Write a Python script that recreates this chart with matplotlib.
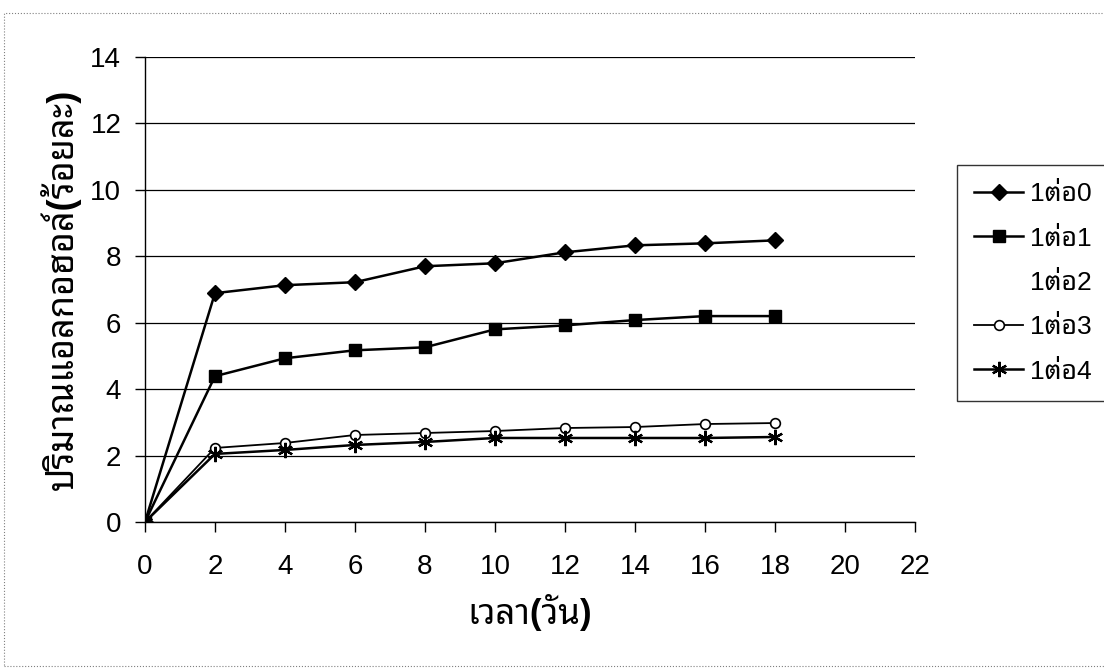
import matplotlib
matplotlib.use("Agg")
import matplotlib.pyplot as plt
from matplotlib.patches import Rectangle

# Latin text in Arial-like font, Thai falls back to a looped Thai face
plt.rcParams['font.family'] = ['Liberation Sans', 'Noto Sans Thai Looped']

days = [0, 2, 4, 6, 8, 10, 12, 14, 16, 18]

# alcohol content (%) for each ratio
r1_0 = [0.0, 6.89, 7.13, 7.22, 7.70, 7.79, 8.12, 8.33, 8.39, 8.48]
r1_1 = [0.0, 4.39, 4.93, 5.17, 5.26, 5.80, 5.92, 6.08, 6.20, 6.20]
r1_2 = []
r1_3 = [0.0, 2.23, 2.38, 2.62, 2.68, 2.74, 2.83, 2.86, 2.95, 2.98]
r1_4 = [0.0, 2.05, 2.17, 2.32, 2.41, 2.53, 2.53, 2.53, 2.53, 2.56]

labels = ['1ต่อ0', '1ต่อ1', '1ต่อ2', '1ต่อ3', '1ต่อ4']

fig = plt.figure(figsize=(11.04, 6.69), dpi=100)
ax = fig.add_axes([0.1313, 0.2197, 0.6975, 0.6951])

ax.plot(days, r1_0, color='black', lw=1.8, marker='D', ms=8.5, label=labels[0])
ax.plot(days, r1_1, color='black', lw=1.8, marker='s', ms=8.5, label=labels[1])
ax.plot(r1_2, r1_2, linestyle='none', marker='none', label=labels[2])
ax.plot(days, r1_3, color='black', lw=1.3, marker='o', ms=7, mfc='white', mew=1.2, label=labels[3])
ax.plot(days, r1_4, color='black', lw=1.8, marker=(6, 2, 0), ms=11, mew=1.6, label=labels[4])

ax.set_xlim(0, 22)
ax.set_ylim(0, 14)
ax.set_xticks(range(0, 23, 2))
ax.set_yticks(range(0, 15, 2))
ax.grid(axis='y', color='black', lw=0.9)
ax.set_axisbelow(True)
ax.spines['top'].set_visible(False)
ax.spines['right'].set_visible(False)
ax.spines['left'].set_linewidth(1.0)
ax.spines['bottom'].set_linewidth(1.0)
ax.tick_params(axis='both', labelsize=20, length=7, width=1, direction='out')
ax.tick_params(axis='x', pad=16)
ax.tick_params(axis='y', pad=10)

ax.set_xlabel('เวลา(วัน)', fontsize=25, fontweight='bold', labelpad=10)
ax.set_ylabel('ปริมาณแอลกอฮอล์(ร้อยละ)', fontsize=26, fontweight='bold', labelpad=7)

leg = ax.legend(loc='upper left', bbox_to_anchor=(0.867, 0.753),
                bbox_transform=fig.transFigure, borderaxespad=0, fontsize=19,
                frameon=True, fancybox=False, handlelength=1.85, handletextpad=0.25,
                labelspacing=0.77, borderpad=0.65)
leg.get_frame().set_edgecolor('black')
leg.get_frame().set_linewidth(1.0)

# scanned page border
fig.patches.append(Rectangle((0.004, 0.005), 1.2, 0.975, transform=fig.transFigure,
                             fill=False, edgecolor='gray', lw=0.8, ls=':'))

fig.savefig('out.png', dpi=100)
